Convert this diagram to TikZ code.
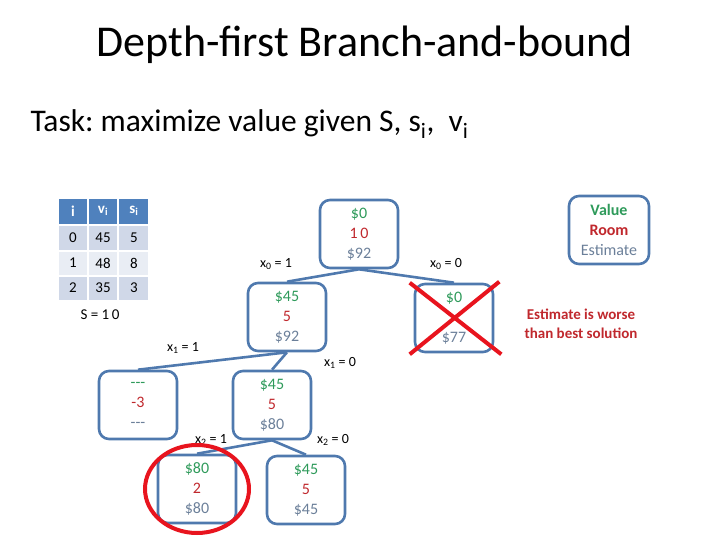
\documentclass[tikz,border=0pt]{standalone}
\usepackage{fontspec}
\setmainfont{Carlito}
\usetikzlibrary{calc}
\frenchspacing

\definecolor{boxblue}{HTML}{4F79AE}
\definecolor{valgreen}{HTML}{2E9A5A}
\definecolor{roomred}{HTML}{C0282D}
\definecolor{estgray}{HTML}{6B7F99}
\definecolor{headblue}{HTML}{4F81BD}
\definecolor{rowdark}{HTML}{D0D8E8}
\definecolor{rowlight}{HTML}{E9EDF4}
\definecolor{crossred}{HTML}{E8141E}

\newcommand{\vre}[3]{\textcolor{valgreen}{#1}\\\textcolor{roomred}{#2}\\\textcolor{estgray}{#3}}
\newcommand{\nodash}{{-}{-}{-}}

\tikzset{
  bbox/.style={draw=boxblue, line width=2.6pt, rounded corners=10pt,
    minimum width=78pt, minimum height=68pt, align=center, inner sep=0pt,
    font=\fontsize{16}{20}\selectfont},
  edge/.style={draw=boxblue, line width=2.6pt},
  xlab/.style={font=\fontsize{14}{14}\selectfont},
  cell/.style={draw=white, line width=1.5pt}
}

\begin{document}
\begin{tikzpicture}[x=1pt, y=-1pt]
    \useasboundingbox (0,0) rectangle (720,540);
    % titles
    \node[font=\fontsize{44}{44}\selectfont] (title) at (365,45) {Depth-first Branch-and-bound};
    \node[anchor=base west, font=\fontsize{31.5}{32}\selectfont] (task) at (27,132)
        {Task: maximize value given S, s\textsubscript{i}, \ v\textsubscript{i}};
    % table
    \fill[headblue, cell] (58,198) rectangle (149,225);
    \fill[rowdark, cell] (58,225) rectangle (149,251);
    \fill[rowlight, cell] (58,251) rectangle (149,276);
    \fill[rowdark, cell] (58,276) rectangle (149,301);
    \draw[white, line width=1.5pt] (88,198) -- (88,301);
    \draw[white, line width=1.5pt] (118,198) -- (118,301);
    \node[white, font=\fontsize{15}{15}\selectfont\bfseries] (hi) at (73,211) {i};
    \node[white, font=\fontsize{15}{15}\selectfont\bfseries] (hv) at (103,211) {v\textsubscript{i}};
    \node[white, font=\fontsize{15}{15}\selectfont\bfseries] (hs) at (134,211) {s\textsubscript{i}};
    \foreach \i/\v/\s/\y in {0/45/5/238, 1/48/8/263, 2/35/3/288} {
        \node[font=\fontsize{15}{15}\selectfont] at (73,\y) {\i};
        \node[font=\fontsize{15}{15}\selectfont] at (103,\y) {\v};
        \node[font=\fontsize{15}{15}\selectfont] at (134,\y) {\s};
    }
    \node[font=\fontsize{15}{15}\selectfont] (cap) at (100,315) {S = 1\,0};
    % tree
    \node[bbox] (root) at (359,234) {\vre{\$0}{1\,0}{\$92}};
    \node[bbox] (a) at (287,317) {\vre{\$45}{5}{\$92}};
    \node[bbox] (b) at (454,318) {\vre{\$0}{\phantom{0}}{\$77}};
    \node[bbox] (c) at (138,405) {\vre{\nodash}{-3}{\nodash}};
    \node[bbox] (d) at (272,405) {\vre{\$45}{5}{\$80}};
    \node[bbox] (e) at (197,489) {\vre{\$80}{2}{\$80}};
    \node[bbox] (f) at (306,490) {\vre{\$45}{5}{\$45}};
    \draw[edge] (root.south) -- (a.north);
    \draw[edge] (root.south) -- (b.north);
    \draw[edge] (a.south) -- (c.north);
    \draw[edge] (a.south) -- (d.north);
    \draw[edge] (d.south) -- (e.north);
    \draw[edge] (d.south) -- (f.north);
    \node[xlab] (l01) at (276,264) {x\textsubscript{0} = 1};
    \node[xlab] (l00) at (446,264) {x\textsubscript{0} = 0};
    \node[xlab] (l11) at (183,348) {x\textsubscript{1} = 1};
    \node[xlab] (l10) at (340,363) {x\textsubscript{1} = 0};
    \node[xlab] (l21) at (211,440) {x\textsubscript{2} = 1};
    \node[xlab] (l20) at (333,440) {x\textsubscript{2} = 0};
    % pruned node and best solution
    \draw[crossred, line width=4pt] ($(b.north west)+(-4,0)$) -- ($(b.south east)+(7,1)$);
    \draw[crossred, line width=4pt] ($(b.north east)+(5,-1)$) -- ($(b.south west)+(-4,1)$);
    \draw[crossred, line width=4pt] (e) ellipse (52 and 44);
    % legend
    \node[bbox, minimum width=80pt] (legend) at (609,230)
        {\textcolor{valgreen}{\bfseries Value}\\\textcolor{roomred}{\bfseries Room}\\\textcolor{estgray}{Estimate}};
    \node[align=center, text=roomred, font=\fontsize{15}{19}\selectfont\bfseries] (note) at (581,324)
        {Estimate is worse\\than best solution};
\end{tikzpicture}
\end{document}
